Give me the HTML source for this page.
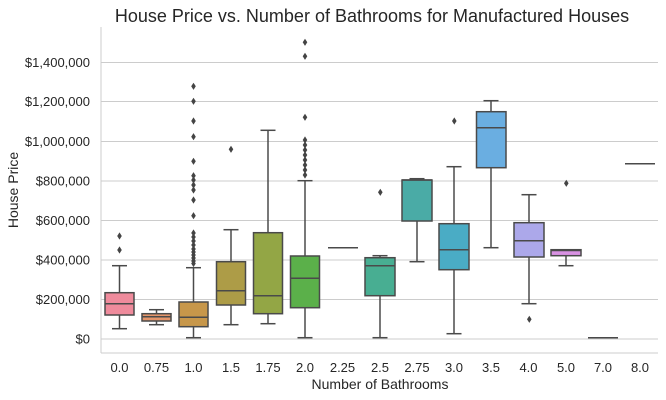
<!DOCTYPE html>
<html><head><meta charset="utf-8"><style>
html,body{margin:0;padding:0;background:#fff;}
svg{display:block;font-family:"Liberation Sans",sans-serif;}
</style></head><body>
<svg width="666" height="400" viewBox="0 0 666 400" xmlns="http://www.w3.org/2000/svg">
<defs><path id="d" d="M0,-3.6 L2.3,0 L0,3.6 L-2.3,0 Z" fill="#444"/></defs>
<text x="372" y="22" font-size="18" text-anchor="middle" fill="#262626">House Price vs. Number of Bathrooms for Manufactured Houses</text>
<g stroke="#cccccc" stroke-width="1">
<line x1="101" x2="658" y1="62.5" y2="62.5"/><line x1="101" x2="658" y1="101.5" y2="101.5"/>
<line x1="101" x2="658" y1="141.5" y2="141.5"/><line x1="101" x2="658" y1="181" y2="181"/>
<line x1="101" x2="658" y1="220.5" y2="220.5"/><line x1="101" x2="658" y1="260" y2="260"/>
<line x1="101" x2="658" y1="299.5" y2="299.5"/><line x1="101" x2="658" y1="339" y2="339"/>
<line x1="101" x2="101" y1="27" y2="353"/><line x1="101" x2="658" y1="353" y2="353"/>
</g>
<g font-size="13" fill="#262626" text-anchor="end">
<text x="90" y="67">$1,400,000</text><text x="90" y="106">$1,200,000</text>
<text x="90" y="146">$1,000,000</text><text x="90" y="185.5">$800,000</text>
<text x="90" y="225">$600,000</text><text x="90" y="264.5">$400,000</text>
<text x="90" y="304">$200,000</text><text x="90" y="343.5">$0</text>
</g>
<g font-size="13" fill="#262626" text-anchor="middle">
<text x="119.5" y="372">0.0</text><text x="156.5" y="372">0.75</text><text x="193.5" y="372">1.0</text>
<text x="231" y="372">1.5</text><text x="268" y="372">1.75</text><text x="305" y="372">2.0</text>
<text x="342.5" y="372">2.25</text><text x="380" y="372">2.5</text><text x="417" y="372">2.75</text>
<text x="454" y="372">3.0</text><text x="491" y="372">3.5</text><text x="528.5" y="372">4.0</text>
<text x="566" y="372">5.0</text><text x="603" y="372">7.0</text><text x="640" y="372">8.0</text>
</g>
<text x="380" y="389" font-size="14" text-anchor="middle" fill="#262626">Number of Bathrooms</text>
<text transform="translate(18,190) rotate(-90)" font-size="14" text-anchor="middle" fill="#262626">House Price</text>
<g stroke="#4a4a4a" stroke-width="1.5">
<!-- 0.0 -->
<line x1="119.5" x2="119.5" y1="265.7" y2="292.7"/><line x1="119.5" x2="119.5" y1="315" y2="328.7"/>
<line x1="112" x2="127" y1="265.7" y2="265.7"/><line x1="112" x2="127" y1="328.7" y2="328.7"/>
<rect x="105" y="292.7" width="29" height="22.3" fill="#ef8b9c"/><line x1="105" x2="134" y1="303.7" y2="303.7"/>
<!-- 0.75 -->
<line x1="156.5" x2="156.5" y1="309.7" y2="324.7"/>
<line x1="149" x2="164" y1="309.7" y2="309.7"/><line x1="149" x2="164" y1="324.7" y2="324.7"/>
<rect x="142" y="313.7" width="29" height="7.3" fill="#e4956a"/><line x1="142" x2="171" y1="316.7" y2="316.7"/>
<!-- 1.0 -->
<line x1="193.5" x2="193.5" y1="267.7" y2="302"/><line x1="193.5" x2="193.5" y1="326.7" y2="337.7"/>
<line x1="186" x2="201" y1="267.7" y2="267.7"/><line x1="186" x2="201" y1="337.7" y2="337.7"/>
<rect x="179" y="302" width="29" height="24.7" fill="#c7974a"/><line x1="179" x2="208" y1="317.3" y2="317.3"/>
<!-- 1.5 -->
<line x1="231" x2="231" y1="229.7" y2="261.7"/><line x1="231" x2="231" y1="305" y2="324.7"/>
<line x1="223.5" x2="238.5" y1="229.7" y2="229.7"/><line x1="223.5" x2="238.5" y1="324.7" y2="324.7"/>
<rect x="216.5" y="261.7" width="29" height="43.3" fill="#ad9c47"/><line x1="216.5" x2="245.5" y1="290.7" y2="290.7"/>
<!-- 1.75 -->
<line x1="268" x2="268" y1="130.3" y2="232.7"/><line x1="268" x2="268" y1="313.7" y2="323.7"/>
<line x1="260.5" x2="275.5" y1="130.3" y2="130.3"/><line x1="260.5" x2="275.5" y1="323.7" y2="323.7"/>
<rect x="253.5" y="232.7" width="29" height="81" fill="#93a645"/><line x1="253.5" x2="282.5" y1="295.7" y2="295.7"/>
<!-- 2.0 -->
<line x1="305" x2="305" y1="180.7" y2="256"/><line x1="305" x2="305" y1="307.7" y2="337.7"/>
<line x1="297.5" x2="312.5" y1="180.7" y2="180.7"/><line x1="297.5" x2="312.5" y1="337.7" y2="337.7"/>
<rect x="290.5" y="256" width="29" height="51.7" fill="#5bb04a"/><line x1="290.5" x2="319.5" y1="278.3" y2="278.3"/>
<!-- 2.25 -->
<line x1="328" x2="358" y1="247.7" y2="247.7"/>
<!-- 2.5 -->
<line x1="380" x2="380" y1="255.7" y2="257.7"/><line x1="380" x2="380" y1="295.7" y2="337.7"/>
<line x1="372.5" x2="387.5" y1="255.7" y2="255.7"/><line x1="372.5" x2="387.5" y1="337.7" y2="337.7"/>
<rect x="365" y="257.7" width="30" height="38" fill="#48ae92"/><line x1="365" x2="395" y1="265.7" y2="265.7"/>
<!-- 2.75 -->
<line x1="417" x2="417" y1="221" y2="261.7"/>
<line x1="409.5" x2="424.5" y1="178.7" y2="178.7"/><line x1="409.5" x2="424.5" y1="261.7" y2="261.7"/>
<rect x="402" y="180" width="30" height="41" fill="#4aaba6"/><line x1="402" x2="432" y1="180" y2="180"/>
<!-- 3.0 -->
<line x1="454" x2="454" y1="166.7" y2="223.7"/><line x1="454" x2="454" y1="269.7" y2="333.7"/>
<line x1="446.5" x2="461.5" y1="166.7" y2="166.7"/><line x1="446.5" x2="461.5" y1="333.7" y2="333.7"/>
<rect x="439" y="223.7" width="30" height="46" fill="#4aacc5"/><line x1="439" x2="469" y1="249.7" y2="249.7"/>
<!-- 3.5 -->
<line x1="491" x2="491" y1="100.7" y2="111.7"/><line x1="491" x2="491" y1="167.7" y2="247.7"/>
<line x1="483.5" x2="498.5" y1="100.7" y2="100.7"/><line x1="483.5" x2="498.5" y1="247.7" y2="247.7"/>
<rect x="476.5" y="111.7" width="29.5" height="56" fill="#6aaee1"/><line x1="476.5" x2="506" y1="127.7" y2="127.7"/>
<!-- 4.0 -->
<line x1="529" x2="529" y1="194.7" y2="222.7"/><line x1="529" x2="529" y1="257" y2="303.7"/>
<line x1="521.5" x2="536.5" y1="194.7" y2="194.7"/><line x1="521.5" x2="536.5" y1="303.7" y2="303.7"/>
<rect x="514" y="222.7" width="30" height="34.3" fill="#aca8ea"/><line x1="514" x2="544" y1="240.7" y2="240.7"/>
<!-- 5.0 -->
<line x1="566" x2="566" y1="255.7" y2="265.7"/>
<line x1="558.5" x2="573.5" y1="265.7" y2="265.7"/>
<rect x="551" y="249.7" width="30" height="6" fill="#d891e2"/><line x1="551" x2="581" y1="250.5" y2="250.5"/>
<!-- 7.0 -->
<line x1="588" x2="618" y1="337.7" y2="337.7"/>
<!-- 8.0 -->
<line x1="625" x2="655" y1="163.7" y2="163.7"/>
</g>
<g>
<use href="#d" x="119.5" y="236"/><use href="#d" x="119.5" y="250"/>
<use href="#d" x="193.5" y="86.3"/><use href="#d" x="193.5" y="101.3"/><use href="#d" x="193.5" y="121"/>
<use href="#d" x="193.5" y="136.7"/><use href="#d" x="193.5" y="161.3"/><use href="#d" x="193.5" y="175.7"/>
<use href="#d" x="193.5" y="180"/><use href="#d" x="193.5" y="185"/><use href="#d" x="193.5" y="190"/>
<use href="#d" x="193.5" y="200"/><use href="#d" x="193.5" y="215.7"/>
<use href="#d" x="193.5" y="233"/><use href="#d" x="193.5" y="237"/><use href="#d" x="193.5" y="241"/>
<use href="#d" x="193.5" y="245"/><use href="#d" x="193.5" y="249"/><use href="#d" x="193.5" y="252"/>
<use href="#d" x="193.5" y="255"/><use href="#d" x="193.5" y="258"/><use href="#d" x="193.5" y="261"/><use href="#d" x="193.5" y="263.5"/>
<use href="#d" x="231" y="149.3"/>
<use href="#d" x="305" y="42.3"/><use href="#d" x="305" y="56.3"/><use href="#d" x="305" y="117.3"/>
<use href="#d" x="305" y="140"/><use href="#d" x="305" y="145"/><use href="#d" x="305" y="150"/><use href="#d" x="305" y="155"/>
<use href="#d" x="305" y="160"/><use href="#d" x="305" y="165"/><use href="#d" x="305" y="170"/><use href="#d" x="305" y="175"/>
<use href="#d" x="380.3" y="192.3"/>
<use href="#d" x="454.3" y="121"/>
<use href="#d" x="529.3" y="319.3"/>
<use href="#d" x="566.3" y="183.3"/>
</g>
</svg>
</body></html>
